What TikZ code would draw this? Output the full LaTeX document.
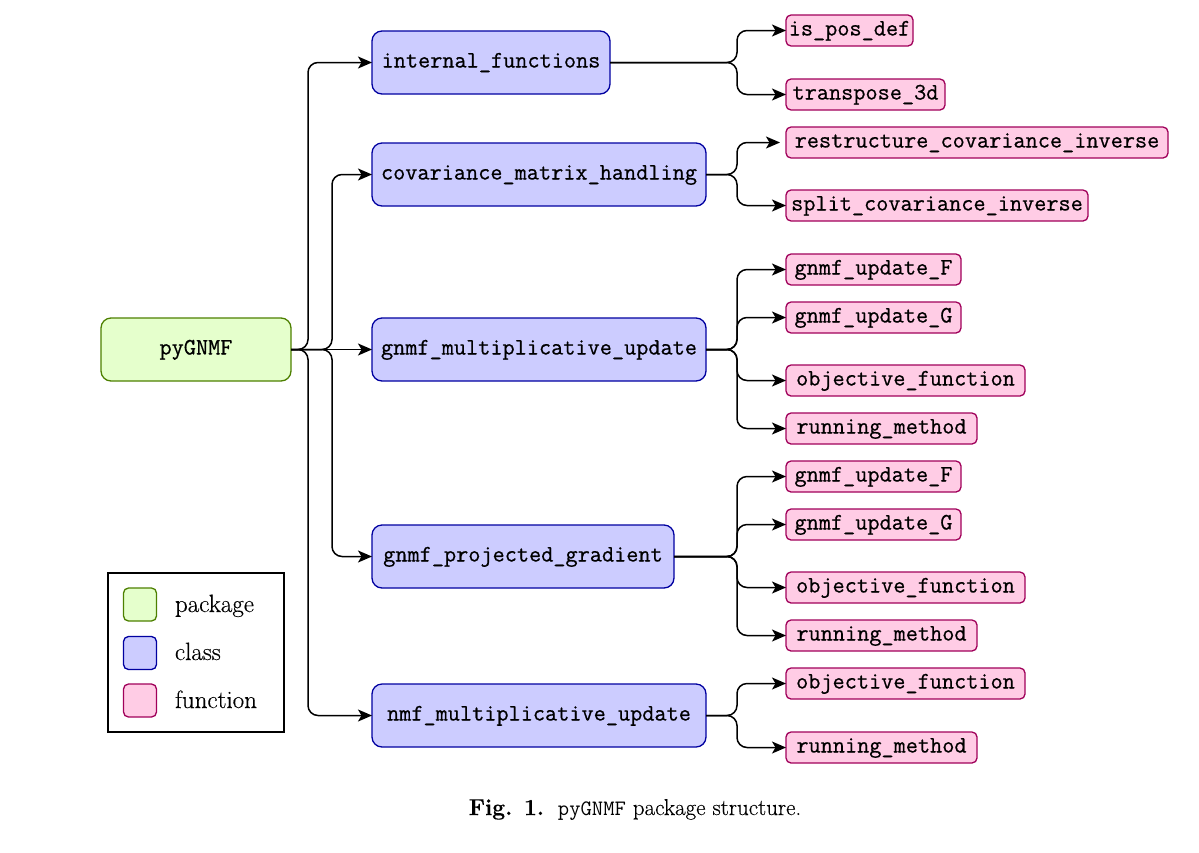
\documentclass[tikz,border=0pt]{standalone}
\usepackage{fontspec}
\newfontfamily\boxtt[FakeBold=0.6]{Latin Modern Mono}
\newfontfamily\legrm[FakeBold=0.3]{Latin Modern Roman}
\usetikzlibrary{arrows.meta,calc}
\definecolor{pkgfill}{HTML}{E5FFCC}
\definecolor{pkgdraw}{HTML}{4D8000}
\definecolor{clsfill}{HTML}{CCCCFF}
\definecolor{clsdraw}{HTML}{0000A0}
\definecolor{fnfill}{HTML}{FFCCE5}
\definecolor{fndraw}{HTML}{A0005A}
\begin{document}
\begin{tikzpicture}[x=1pt,y=-1pt,
  every node/.style={inner sep=0pt, outer sep=0pt},
  boxfont/.style={font=\fontsize{23.6}{26}\boxtt, text height=15pt, text depth=5pt},
  pkgbox/.style={boxfont, draw=pkgdraw, fill=pkgfill, line width=1.3pt, rounded corners=10pt, minimum height=63pt},
  clsbox/.style={boxfont, draw=clsdraw, fill=clsfill, line width=1.3pt, rounded corners=10pt, minimum height=63pt, anchor=west},
  fnbox/.style={boxfont, draw=fndraw, fill=fnfill, line width=1.3pt, rounded corners=5pt, minimum height=31pt, anchor=west},
  conn/.style={line width=1.5pt, rounded corners=10pt, -{Stealth[length=14pt,width=12pt,inset=3.5pt]}},
  legsq/.style={line width=1.3pt, rounded corners=5pt, minimum width=33pt, minimum height=33pt},
  legtext/.style={anchor=base west, font=\fontsize{25}{28}\legrm},
]
\useasboundingbox (0,0) rectangle (1199,852);

% package
\node[pkgbox, minimum width=190pt] (pkg) at (196,349.5) {pyGNMF};

% classes
\node[clsbox, minimum width=238pt] (c1) at (372,62.5) {internal\_functions};
\node[clsbox, minimum width=334pt] (c2) at (372,174.5) {covariance\_matrix\_handling};
\node[clsbox, minimum width=334pt] (c3) at (372,349.5) {gnmf\_multiplicative\_update};
\node[clsbox, minimum width=302pt] (c4) at (372,556.5) {gnmf\_projected\_gradient};
\node[clsbox, minimum width=334pt] (c5) at (372,715.5) {nmf\_multiplicative\_update};

% functions
\node[fnbox, minimum width=127pt] (f1) at (786,30.5) {is\_pos\_def};
\node[fnbox, minimum width=159pt] (f2) at (786,94.5) {transpose\_3d};
\node[fnbox, minimum width=382pt] (f3) at (786,142.5) {restructure\_covariance\_inverse};
\node[fnbox, minimum width=302pt] (f4) at (786,205.5) {split\_covariance\_inverse};
\node[fnbox, minimum width=175pt] (f5) at (786,269.5) {gnmf\_update\_F};
\node[fnbox, minimum width=175pt] (f6) at (786,317.5) {gnmf\_update\_G};
\node[fnbox, minimum width=239pt] (f7) at (786,380.5) {objective\_function};
\node[fnbox, minimum width=191pt] (f8) at (786,428.5) {running\_method};
\node[fnbox, minimum width=175pt] (f9) at (786,476.5) {gnmf\_update\_F};
\node[fnbox, minimum width=175pt] (f10) at (786,524.5) {gnmf\_update\_G};
\node[fnbox, minimum width=239pt] (f11) at (786,587.5) {objective\_function};
\node[fnbox, minimum width=191pt] (f12) at (786,635.5) {running\_method};
\node[fnbox, minimum width=239pt] (f13) at (786,683.5) {objective\_function};
\node[fnbox, minimum width=191pt] (f14) at (786,747.5) {running\_method};

% branch coordinates
\coordinate (p1) at (308,0);
\coordinate (p2) at (332,0);
\coordinate (bx) at (737,0);

% package -> classes
\draw[conn] (pkg.east) -- (p1 |- pkg.east) |- (c1.west);
\draw[conn] (pkg.east) -- (p2 |- pkg.east) |- (c2.west);
\draw[conn] (pkg.east) -- (c3.west);
\draw[conn] (pkg.east) -- (p2 |- pkg.east) |- (c4.west);
\draw[conn] (pkg.east) -- (p1 |- pkg.east) |- (c5.west);

% classes -> functions
\draw[conn] (c1.east) -- (bx |- c1.east) |- (f1.west);
\draw[conn] (c1.east) -- (bx |- c1.east) |- (f2.west);
\draw[conn, shorten >=6pt] (c2.east) -- (bx |- c2.east) |- (f3.west);
\draw[conn] (c2.east) -- (bx |- c2.east) |- (f4.west);
\draw[conn] (c3.east) -- (bx |- c3.east) |- (f5.west);
\draw[conn] (c3.east) -- (bx |- c3.east) |- (f6.west);
\draw[conn] (c3.east) -- (bx |- c3.east) |- (f7.west);
\draw[conn] (c3.east) -- (bx |- c3.east) |- (f8.west);
\draw[conn] (c4.east) -- (bx |- c4.east) |- (f9.west);
\draw[conn] (c4.east) -- (bx |- c4.east) |- (f10.west);
\draw[conn] (c4.east) -- (bx |- c4.east) |- (f11.west);
\draw[conn] (c4.east) -- (bx |- c4.east) |- (f12.west);
\draw[conn] (c5.east) -- (bx |- c5.east) |- (f13.west);
\draw[conn] (c5.east) -- (bx |- c5.east) |- (f14.west);

% legend
\node[draw, line width=1.3pt, minimum width=176pt, minimum height=159pt, anchor=north west] (leg) at (108,573) {};
\node[legsq, draw=pkgdraw, fill=pkgfill] (lp) at (140,604.5) {};
\node[legsq, draw=clsdraw, fill=clsfill] (lc) at (140,653) {};
\node[legsq, draw=fndraw, fill=fnfill] (lf) at (140,700.5) {};
\node[legtext] (tp) at (175,612) {package};
\node[legtext] (tc) at (175,660) {class};
\node[legtext] (tf) at (175,708) {function};

% caption
\node[anchor=base, font=\fontsize{23}{26}\legrm] (cap) at (635,815) {\textbf{Fig. 1.}\ \ {\fontsize{22}{24}\ttfamily pyGNMF} package structure.};
\end{tikzpicture}
\end{document}
